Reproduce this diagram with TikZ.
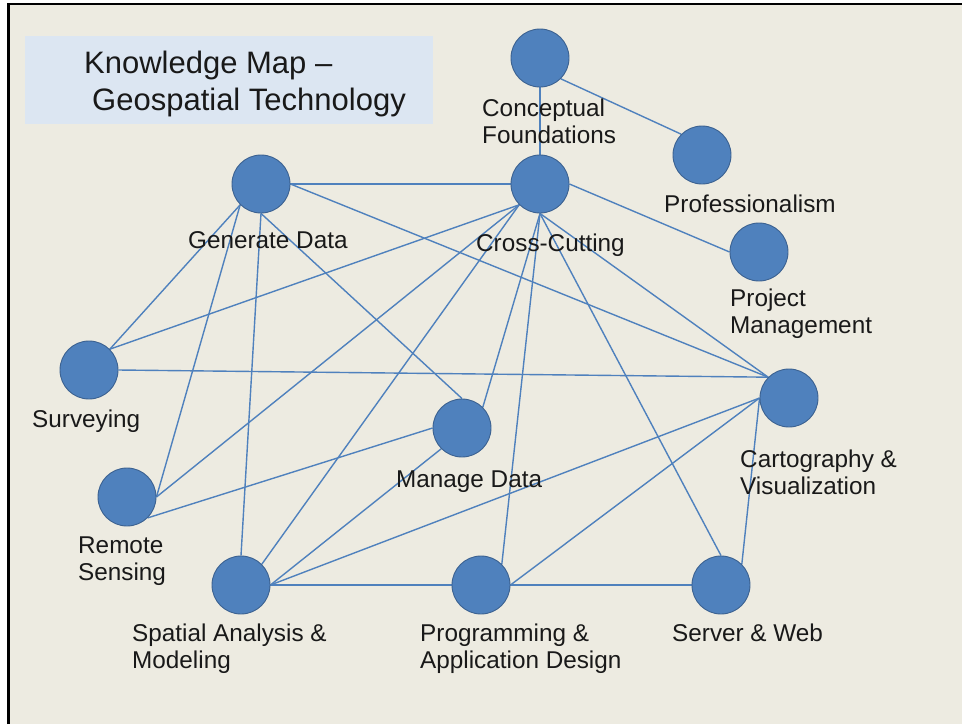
\documentclass[tikz,border=0pt]{standalone}
\usepackage{fontspec}
\setmainfont{Liberation Sans}
\usetikzlibrary{backgrounds}
\definecolor{paper}{RGB}{237,235,225}
\definecolor{titlefill}{RGB}{220,230,242}
\definecolor{nodeblue}{RGB}{79,129,189}
\definecolor{nodeedge}{RGB}{60,98,145}
\definecolor{linkblue}{RGB}{79,129,189}
\definecolor{ink}{RGB}{25,25,25}
\begin{document}
\begin{tikzpicture}[x=1pt,y=-1pt,
  topic/.style={circle,fill=nodeblue,draw=nodeedge,line width=0.9pt,minimum size=58pt,inner sep=0pt},
  link/.style={draw=linkblue,line width=1.4pt},
  tag/.style={anchor=base west,inner sep=0pt,align=left,text=ink,
              font=\fontsize{24.3}{27.5}\selectfont}]
\useasboundingbox (0,0) rectangle (962,724);

% topics of the knowledge map
\node[topic] (cf)   at (540,58)  {};
\node[topic] (pro)  at (702,155) {};
\node[topic] (cc)   at (540,184) {};
\node[topic] (gd)   at (261,184) {};
\node[topic] (pm)   at (759,252) {};
\node[topic] (sur)  at (89,370)  {};
\node[topic] (cart) at (789,398) {};
\node[topic] (md)   at (462,428) {};
\node[topic] (rs)   at (127,497) {};
\node[topic] (sa)   at (241,585) {};
\node[topic] (prog) at (481,585) {};
\node[topic] (sw)   at (721,585) {};

% labels under the topics (base anchor sits on the last line)
\node[tag] (cfl)   at (482,143.5) {Conceptual\\Foundations};
\node[tag] (prol)  at (664,212)   {Professionalism};
\node[tag] (ccl)   at (476,251)   {Cross-Cutting};
\node[tag] (gdl)   at (188,248)   {Generate Data};
\node[tag] (pml)   at (730,333.5) {Project\\Management};
\node[tag] (surl)  at (32,427)    {Surveying};
\node[tag] (cartl) at (740,494.5) {Cartography \&\\Visualization};
\node[tag] (mdl)   at (396,487)   {Manage Data};
\node[tag] (rsl)   at (78,580.5)  {Remote\\Sensing};
\node[tag] (sal)   at (132,668.5) {Spatial Analysis \&\\Modeling};
\node[tag] (progl) at (420,668.5) {Programming \&\\Application Design};
\node[tag] (swl)   at (672,641)   {Server \& Web};

% heading
\node[anchor=base west,inner sep=0pt,align=left,text=ink,
      font=\fontsize{31}{37}\selectfont] (title) at (84,110)
  {Knowledge Map –\\\hspace*{8pt}Geospatial Technology};

\begin{scope}[on background layer]
  % page, frame and heading panel
  \fill[white] (0,0) rectangle (962,724);
  \fill[paper] (8,4) rectangle (962,724);
  \draw[black,line width=2.4pt] (8.5,724) -- (8.5,4) -- (962,4);
  \fill[titlefill] (25,36) rectangle (433,124);

  % connections between topics
  \draw[link] (cf.south) -- (cc.north);
  \draw[link] (cf.south east) -- (pro.north west);
  \draw[link] (cc.west) -- (gd.east);
  \draw[link] (cc.east) -- (pm.west);
  \draw[link] (cc.south west) -- (sur.north east);
  \draw[link] (cc.south west) -- (rs.east);
  \draw[link] (cc.south west) -- (sa.north east);
  \draw[link] (cc.south) -- (md.north east);
  \draw[link] (cc.south) -- (prog.north east);
  \draw[link] (cc.south) -- (sw.north);
  \draw[link] (cc.south) -- (cart.north west);
  \draw[link] (gd.south west) -- (sur.north east);
  \draw[link] (gd.south west) -- (rs.east);
  \draw[link] (gd.south) -- (sa.north);
  \draw[link] (gd.south) -- (md.north);
  \draw[link] (gd.east) -- (cart.north west);
  \draw[link] (sur.east) -- (cart.north west);
  \draw[link] (md.west) -- (rs.south east);
  \draw[link] (md.south west) -- (sa.east);
  \draw[link] (sa.east) -- (cart.west);
  \draw[link] (sa.east) -- (prog.west);
  \draw[link] (prog.east) -- (cart.west);
  \draw[link] (prog.east) -- (sw.west);
  \draw[link] (cart.west) -- (sw.north east);
\end{scope}
\end{tikzpicture}
\end{document}
